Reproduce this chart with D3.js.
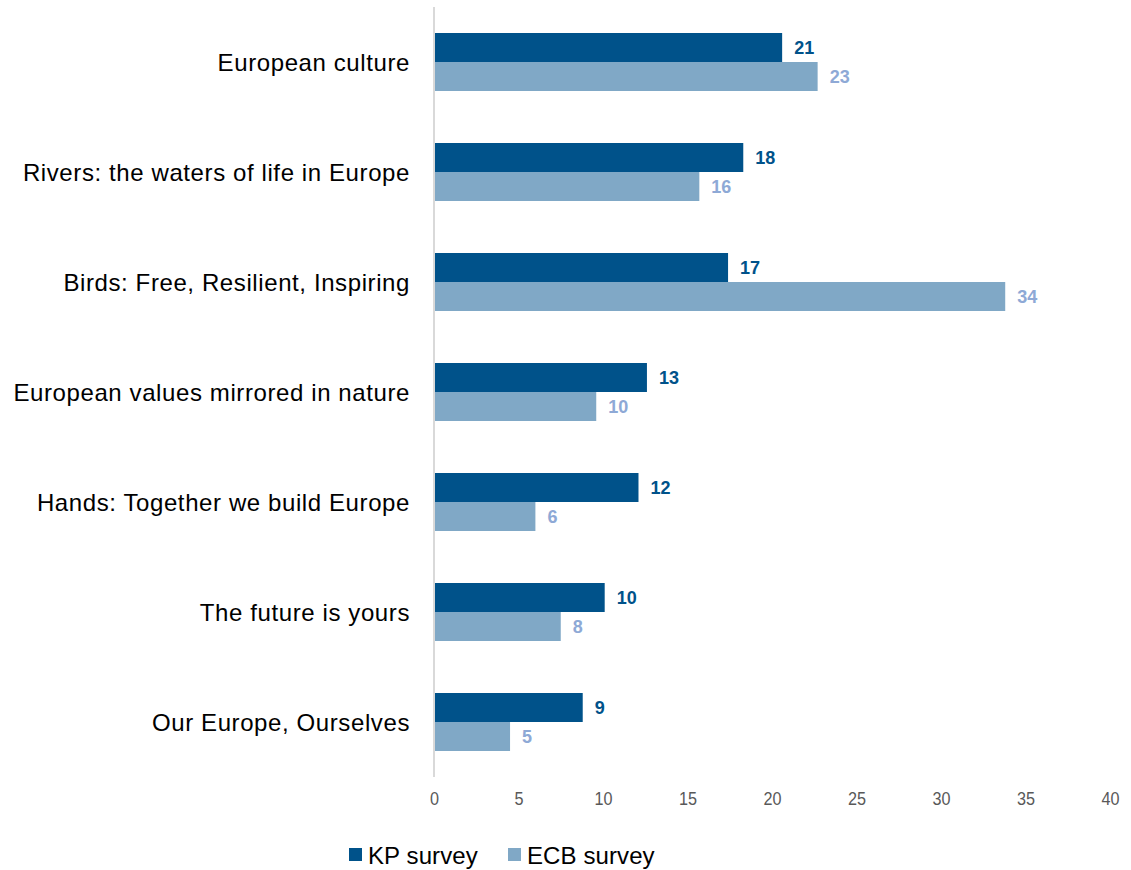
<!DOCTYPE html>
<html>
<head>
<meta charset="utf-8">
<script src="https://cdn.jsdelivr.net/npm/d3@7"></script>
<style>
  html, body { margin: 0; padding: 0; background: #ffffff; }
  svg { display: block; font-family: "Liberation Sans", Arial, sans-serif; }
</style>
</head>
<body>
<svg id="chart" width="1131" height="870"></svg>
<script>
const categories = [
  "European culture",
  "Rivers: the waters of life in Europe",
  "Birds: Free, Resilient, Inspiring",
  "European values mirrored in nature",
  "Hands: Together we build Europe",
  "The future is yours",
  "Our Europe, Ourselves"
];
const seriesNames = ["KP survey", "ECB survey"];
const kpValues  = [20.6, 18.3, 17.4, 12.6, 12.1, 10.1, 8.8];
const ecbValues = [22.7, 15.7, 33.8, 9.6, 6.0, 7.5, 4.5];
const xTicks = [0, 5, 10, 15, 20, 25, 30, 35, 40];

const barColors = ["#00528a", "#80a8c6"];
const labelColors = ["#00528a", "#8ea9d6"];

const svg = d3.select("#chart");

const x = d3.scaleLinear().domain([0, 40]).range([434, 1110]);
const y = d3.scaleBand().domain(categories).range([7, 777])
  .paddingInner(0.4727).paddingOuter(0.4727 / 2);
const ySub = d3.scaleBand().domain(seriesNames).range([0, y.bandwidth()]);

const rows = categories.map((c, i) => ({ cat: c, vals: [kpValues[i], ecbValues[i]] }));

// bars
const g = svg.append("g");
const groups = g.selectAll("g.row").data(rows).join("g")
  .attr("class", "row")
  .attr("transform", d => `translate(0,${y(d.cat)})`);

groups.selectAll("rect").data(d => d.vals.map((v, j) => ({ v, s: seriesNames[j], j })))
  .join("rect")
  .attr("x", x(0))
  .attr("y", d => ySub(d.s))
  .attr("width", d => x(d.v) - x(0))
  .attr("height", ySub.bandwidth())
  .attr("fill", d => barColors[d.j]);

groups.selectAll("text.val").data(d => d.vals.map((v, j) => ({ v, s: seriesNames[j], j })))
  .join("text")
  .attr("class", "val")
  .attr("x", d => x(d.v) + 12)
  .attr("y", d => ySub(d.s) + ySub.bandwidth() / 2)
  .attr("dy", "0.36em")
  .attr("font-size", 18)
  .attr("font-weight", "bold")
  .attr("fill", d => labelColors[d.j])
  .text(d => d3.format(".0f")(d.v));

// vertical axis line
svg.append("line")
  .attr("x1", x(0)).attr("x2", x(0))
  .attr("y1", 7).attr("y2", 777)
  .attr("stroke", "#d9d9d9").attr("stroke-width", 2);

// category labels
svg.append("g").selectAll("text").data(categories).join("text")
  .attr("x", 410)
  .attr("y", d => y(d) + y.bandwidth() / 2)
  .attr("dy", "0.36em")
  .attr("text-anchor", "end")
  .attr("font-size", 24)
  .attr("letter-spacing", "0.6")
  .attr("fill", "#000000")
  .text(d => d);

// x axis
const xAxis = d3.axisBottom(x).tickValues(xTicks).tickSize(0).tickPadding(0);
const ax = svg.append("g").attr("transform", "translate(0,792)").call(xAxis);
ax.select(".domain").remove();
ax.selectAll("text")
  .attr("font-size", 18)
  .attr("font-family", "'Liberation Sans', Arial, sans-serif")
  .attr("fill", "#595959")
  .attr("dy", "0.71em")
  .attr("transform", "scale(0.9,1)");

// legend
const legendX = [349, 508];
const lg = svg.append("g").selectAll("g").data(seriesNames).join("g")
  .attr("transform", (d, i) => `translate(${legendX[i]},848)`);
lg.append("rect").attr("width", 13).attr("height", 13)
  .attr("fill", (d, i) => barColors[i]);
lg.append("text").attr("x", 19).attr("y", 7).attr("dy", "0.36em")
  .attr("font-size", 24).attr("letter-spacing", "0.1").attr("fill", "#000000")
  .text(d => d);
</script>
</body>
</html>
